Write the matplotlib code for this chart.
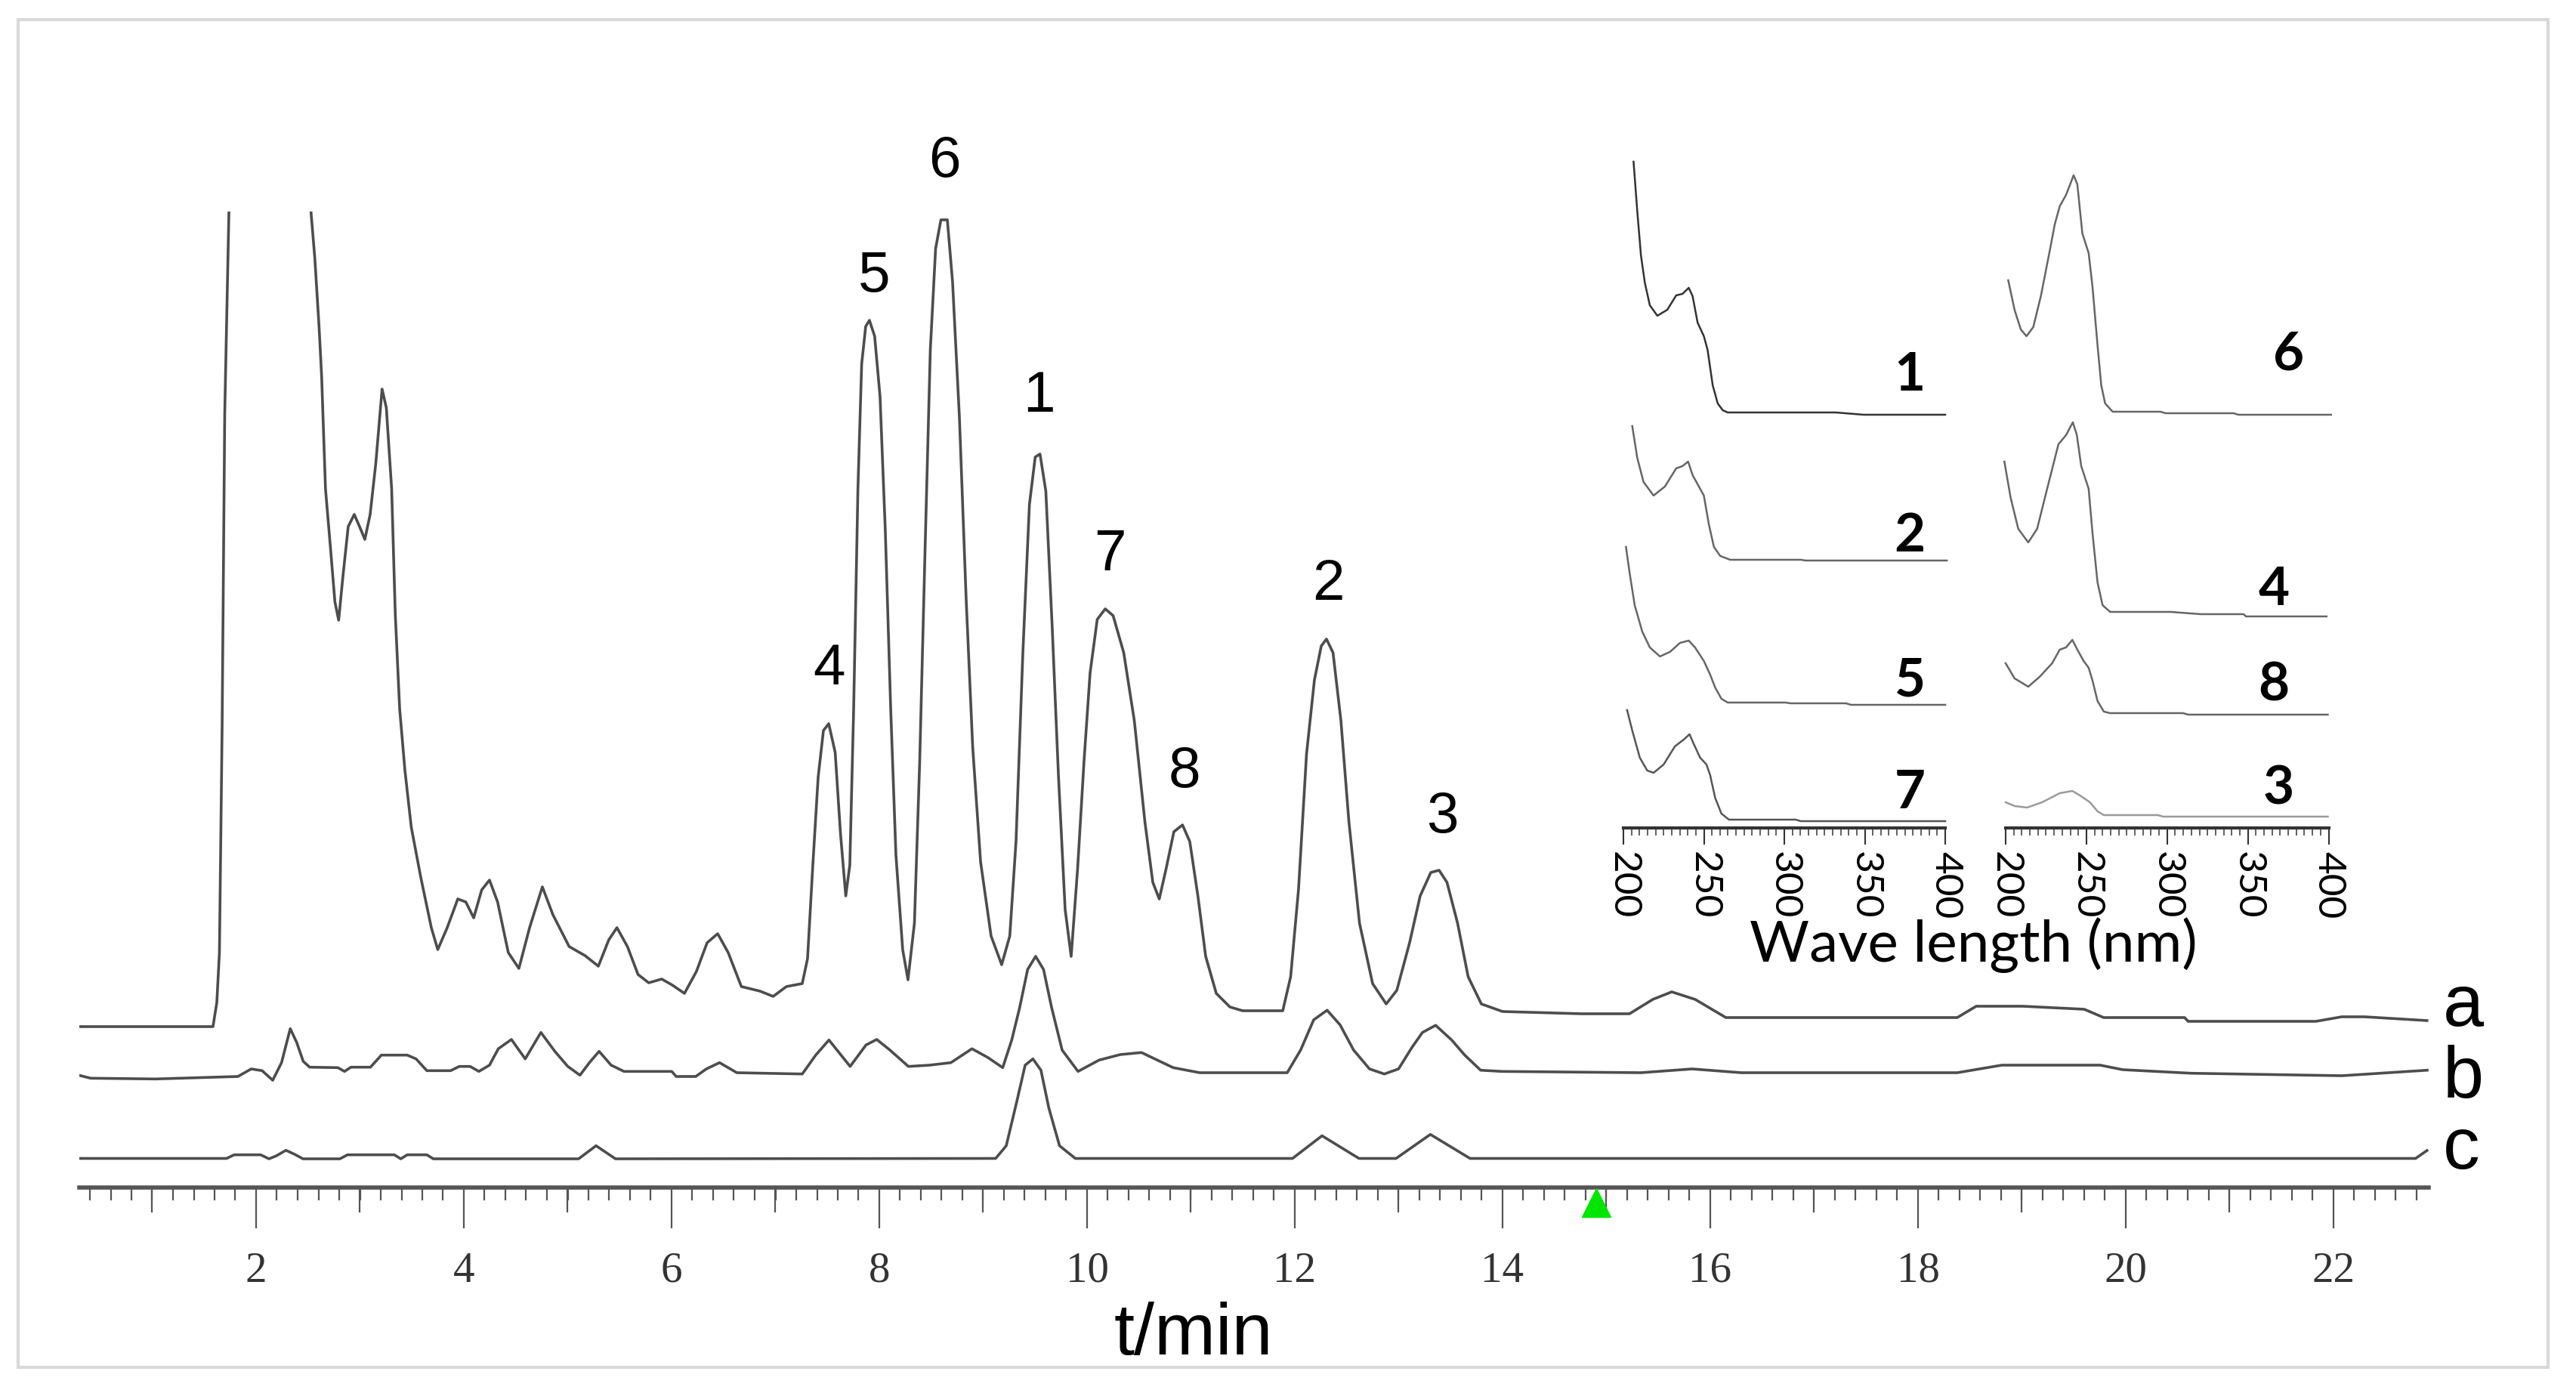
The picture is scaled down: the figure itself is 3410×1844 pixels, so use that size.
import numpy as np
import matplotlib
matplotlib.use("Agg")
import matplotlib.pyplot as plt
from matplotlib.patches import Rectangle
from matplotlib.ticker import MultipleLocator

# ---- chromatogram data (time in min, signal in mAU above each trace's own baseline)
trace_a_t = [0.295, 1.585, 1.622, 1.647, 1.673, 1.698, 1.738, 1.79, 1.95, 2.25,
             2.45, 2.53, 2.565, 2.606, 2.631, 2.668, 2.719, 2.759, 2.795, 2.836,
             2.887, 2.945, 2.996, 3.047, 3.098, 3.152, 3.213, 3.254, 3.305, 3.340,
             3.382, 3.433, 3.494, 3.585, 3.687, 3.749, 3.840, 3.942, 4.019, 4.095,
             4.172, 4.247, 4.325, 4.428, 4.530, 4.633, 4.756, 4.858, 5.014, 5.167,
             5.295, 5.396, 5.474, 5.575, 5.677, 5.780, 5.905, 6.007, 6.124, 6.239,
             6.342, 6.444, 6.545, 6.672, 6.851, 6.978, 7.105, 7.258, 7.309, 7.360,
             7.411, 7.462, 7.513, 7.575, 7.626, 7.677, 7.716, 7.753, 7.794, 7.830,
             7.869, 7.905, 7.955, 8.007, 8.058, 8.109, 8.160, 8.225, 8.276, 8.338,
             8.389, 8.440, 8.491, 8.542, 8.593, 8.655, 8.705, 8.771, 8.836, 8.899,
             8.975, 9.076, 9.178, 9.256, 9.316, 9.382, 9.445, 9.501, 9.547, 9.603,
             9.664, 9.724, 9.789, 9.847, 9.909, 9.971, 10.029, 10.098, 10.175, 10.251,
             10.353, 10.455, 10.557, 10.633, 10.695, 10.761, 10.836, 10.919, 10.989, 11.067,
             11.142, 11.244, 11.375, 11.498, 11.884, 11.960, 12.036, 12.113, 12.189, 12.255,
             12.305, 12.368, 12.444, 12.521, 12.623, 12.749, 12.880, 12.982, 13.105, 13.207,
             13.309, 13.389, 13.465, 13.567, 13.669, 13.796, 14.000, 14.764, 15.222, 15.446,
             15.629, 15.855, 16.150, 18.378, 18.56, 19.007, 19.6, 19.787, 20.566, 20.6,
             21.83, 22.08, 22.3, 22.90]
trace_a_mau = [0.0, 0.0, 3.2, 9.8, 39.7, 81.1, 107.6, 125, 150, 150,
               125, 107.6, 101.8, 92.7, 86.1, 71.2, 62.9, 56.2, 53.8, 59.6,
               66.2, 67.8, 66.2, 64.5, 67.8, 74.5, 84.4, 81.9, 71.2, 54.6,
               42.1, 33.9, 26.4, 19.8, 13.1, 10.2, 13.1, 16.9, 16.5, 14.4,
               18.1, 19.4, 16.5, 9.8, 7.7, 13.1, 18.5, 14.8, 10.6, 9.4,
               8.0, 11.5, 13.1, 10.6, 6.9, 5.8, 6.3, 5.5, 4.4, 7.3,
               11.1, 12.3, 9.8, 5.3, 4.7, 4.0, 5.3, 5.7, 9.0, 21.4,
               33.0, 39.2, 40.1, 36.3, 25.6, 17.3, 21.4, 42.1, 71.2, 87.7,
               92.7, 93.5, 91.4, 83.4, 65.5, 42.3, 22.7, 10.2, 6.2, 13.7,
               35.2, 62.9, 89.6, 103.0, 106.8, 106.8, 98.6, 80.7, 56.6, 37.0,
               21.8, 12.0, 8.2, 12.0, 24.5, 49.5, 69.1, 75.4, 75.8, 70.9,
               53.0, 33.4, 15.5, 9.3, 20.9, 35.2, 46.8, 53.9, 55.3, 54.4,
               49.5, 40.5, 27.1, 19.1, 16.9, 20.9, 25.8, 26.7, 24.5, 17.3,
               9.3, 4.4, 2.6, 2.1, 2.1, 6.6, 18.2, 36.1, 45.9, 50.4,
               51.3, 49.5, 40.5, 27.1, 13.7, 5.7, 3.0, 4.8, 11.1, 17.3,
               20.4, 20.7, 19.1, 13.7, 6.6, 3.0, 2.0, 1.7, 1.7, 3.6,
               4.6, 3.6, 1.2, 1.2, 2.7, 2.7, 2.3, 1.2, 1.2, 0.7,
               0.7, 1.3, 1.3, 0.8]

trace_b_t = [0.291, 0.407, 1.033, 1.825, 1.953, 2.058, 2.160, 2.245, 2.329, 2.391,
             2.454, 2.516, 2.788, 2.851, 2.913, 3.101, 3.206, 3.455, 3.540, 3.644,
             3.873, 3.956, 4.061, 4.145, 4.247, 4.332, 4.458, 4.591, 4.742, 4.876,
             5.001, 5.118, 5.209, 5.302, 5.418, 5.542, 6.002, 6.044, 6.233, 6.335,
             6.462, 6.628, 7.258, 7.388, 7.515, 7.719, 7.872, 7.975, 8.102, 8.280,
             8.484, 8.689, 8.892, 9.046, 9.188, 9.275, 9.352, 9.428, 9.505, 9.581,
             9.658, 9.760, 9.913, 10.116, 10.320, 10.524, 10.676, 10.829, 11.084, 11.927,
             12.056, 12.182, 12.311, 12.436, 12.566, 12.719, 12.862, 12.999, 13.127, 13.229,
             13.356, 13.510, 13.636, 13.789, 13.993, 15.331, 15.825, 16.298, 18.378, 18.807,
             19.753, 19.971, 20.625, 22.08, 22.902]
trace_b_mau = [-0.33, -0.73, -0.83, -0.5, 0.5, 0.27, -1.0, 1.33, 5.83, 4.0,
               1.5, 0.73, 0.67, 0.17, 0.73, 0.73, 2.33, 2.33, 1.83, 0.27,
               0.27, 0.83, 0.83, 0.17, 1.0, 3.17, 4.4, 1.83, 5.33, 2.83,
               0.83, -0.33, 1.33, 2.83, 1.0, 0.17, 0.17, -0.5, -0.5, 0.5,
               1.33, 0.0, -0.17, 2.33, 4.33, 0.83, 3.67, 4.4, 3.0, 0.83,
               1.0, 1.33, 3.17, 2.0, 0.67, 4.33, 8.67, 13.67, 15.4, 13.67,
               8.67, 3.0, 0.17, 1.67, 2.4, 2.67, 1.67, 0.67, 0.0, 0.0,
               3.0, 7.0, 8.27, 6.33, 3.0, 0.5, -0.17, 0.5, 3.33, 5.33,
               6.27, 4.33, 2.33, 0.33, 0.17, 0.0, 0.5, 0.0, 0.0, 1.0,
               1.0, 0.4, -0.07, -0.4, 0.33]

trace_c_t = [0.291, 1.716, 1.789, 2.044, 2.124, 2.196, 2.287, 2.371, 2.451, 2.807,
             2.880, 3.331, 3.393, 3.455, 3.644, 3.706, 5.105, 5.273, 5.460, 9.120,
             9.222, 9.326, 9.404, 9.479, 9.556, 9.632, 9.735, 9.887, 11.978, 12.262,
             12.618, 12.975, 13.305, 13.687, 22.79, 22.90]
trace_c_mau = [0.0, 0.0, 0.48, 0.48, -0.05, 0.35, 1.08, 0.55, -0.05, -0.05,
               0.48, 0.48, -0.05, 0.48, 0.48, -0.05, -0.05, 1.68, -0.05, 0.0,
               1.68, 7.68, 12.35, 13.18, 11.68, 6.68, 1.68, 0.0, 0.0, 3.0,
               0.0, 0.0, 3.18, 0.0, 0.0, 1.05]

trace_names = ["a", "b", "c"]
peak_ids = ["4", "5", "6", "1", "7", "8", "2", "3"]
peak_times = [7.52, 7.95, 8.63, 9.54, 10.22, 10.94, 12.32, 13.42]
marker_time = 14.9

# ---- UV spectra of the numbered peaks (wavelength nm, absorbance above own baseline)
spec_1_nm = [206.3, 208.6, 210.9, 213.3, 216.4, 221.1, 227.3, 232.8, 236.7, 240.6,
             243.0, 246.1, 250.0, 252.3, 255.5, 258.6, 261.7, 264.8, 332.0, 349.2, 400.0]
spec_1_abs = [33.5, 27.0, 21.1, 17.5, 14.5, 13.1, 13.9, 15.8, 16.0, 16.8,
              15.7, 12.2, 10.4, 8.6, 3.9, 1.5, 0.6, 0.3, 0.3, 0.0, 0.0]
spec_2_nm = [205.5, 208.6, 212.5, 218.75, 225.8, 232.8, 236.7, 240.2, 243.0, 246.9,
             250.0, 253.1, 256.25, 260.2, 266.4, 310.2, 313.3, 401.0]
spec_2_abs = [17.8, 13.6, 10.4, 8.6, 9.8, 12.2, 12.5, 13.1, 11.3, 9.8,
              8.6, 4.8, 1.8, 0.6, 0.1, 0.1, 0.0, 0.0]
spec_5_nm = [201.6, 203.9, 207.0, 211.7, 216.4, 222.7, 228.9, 235.2, 240.6, 244.5,
             250.0, 253.9, 257.0, 260.9, 264.8, 300.8, 303.9, 338.3, 341.4, 400.0]
spec_5_abs = [20.9, 17.4, 13.2, 9.7, 7.6, 6.4, 7.0, 8.2, 8.5, 7.6,
              5.8, 4.0, 2.3, 0.8, 0.3, 0.3, 0.2, 0.2, 0.0, 0.0]
spec_7_nm = [202.3, 205.5, 210.2, 214.8, 218.75, 225.0, 232.0, 237.5, 241.1, 243.75,
             247.7, 251.6, 253.9, 257.0, 260.9, 265.6, 307.0, 310.2, 400.0]
spec_7_abs = [14.7, 12.0, 8.4, 6.7, 6.4, 7.5, 9.9, 10.8, 11.5, 10.2,
              8.4, 7.5, 6.1, 3.1, 1.0, 0.2, 0.2, 0.0, 0.0]
spec_6_nm = [201.6, 205.5, 209.35, 212.9, 217.1, 221.8, 227.3, 230.4, 233.5, 237.4,
             242.1, 244.4, 247.5, 251.4, 253.8, 256.9, 259.2, 261.6, 266.25, 295.9,
             299.0, 341.1, 344.2, 401.5]
spec_6_abs = [17.8, 13.9, 11.3, 10.4, 11.6, 15.7, 21.7, 25.2, 27.6, 29.1,
              31.7, 30.5, 24.0, 21.4, 16.9, 9.2, 3.9, 1.5, 0.4, 0.4,
              0.2, 0.2, 0.0, 0.0]
spec_4_nm = [199.2, 203.1, 207.8, 214.0, 219.5, 225.7, 232.7, 237.4, 241.6, 244.1,
             246.8, 251.4, 253.8, 256.9, 260.0, 264.7, 302.1, 320.8, 347.3, 348.9, 398.75]
spec_4_abs = [20.5, 15.7, 11.6, 9.8, 11.6, 16.9, 22.8, 24.0, 25.7, 24.0,
              19.9, 16.9, 11.0, 4.5, 1.5, 0.6, 0.6, 0.3, 0.3, 0.0, 0.0]
spec_8_nm = [200.0, 205.5, 214.0, 221.0, 228.8, 233.5, 237.4, 241.3, 244.4, 248.3,
             251.4, 253.8, 256.9, 260.8, 264.7, 309.9, 313.0, 399.5]
spec_8_abs = [6.8, 4.8, 3.7, 5.0, 6.8, 8.6, 8.9, 9.9, 8.6, 7.1,
              6.2, 4.5, 1.8, 0.4, 0.2, 0.2, 0.0, 0.0]
spec_3_nm = [200.0, 205.5, 213.25, 222.6, 233.5, 241.3, 246.0, 252.2, 256.9, 260.8,
             294.3, 297.4, 399.5]
spec_3_abs = [1.9, 1.4, 1.2, 1.9, 3.1, 3.4, 2.8, 1.9, 0.7, 0.2,
              0.2, 0.0, 0.0]

W, H = 3410, 1844
fig = plt.figure(figsize=(W / 100, H / 100), dpi=100)
fig.patch.set_facecolor("white")

# light frame around the whole picture
fig.patches.append(Rectangle((24 / W, 1 - 1810 / H), (3373 - 24) / W, (1810 - 26) / H,
                             transform=fig.transFigure, fill=False,
                             ec="#d9d9d9", lw=3))

# ---- main chromatogram
ax = fig.add_axes([105.25 / W, 1 - 1572 / H, (3215.5 - 105.25) / W, (1572 - 280) / H])
ax.set_xlim(0.3, 22.92)
ax.set_ylim(0, 129.2)
for sp in ["top", "right", "left"]:
    ax.spines[sp].set_visible(False)
ax.spines["bottom"].set_linewidth(4)
ax.spines["bottom"].set_color("#555555")
ax.set_yticks([])

line_col = "#4d4d4d"
offsets = {"a": 21.3, "b": 15.2, "c": 3.85}
ta = np.array(trace_a_t)
ya = np.array(trace_a_mau) + offsets["a"]
ax.plot(ta, ya, color=line_col, lw=2.6)
ax.plot(trace_b_t, np.array(trace_b_mau) + offsets["b"], color=line_col, lw=2.6)
ax.plot(trace_c_t, np.array(trace_c_mau) + offsets["c"], color=line_col, lw=2.6)

# peak numbers above chromatogram a
for pid, pt in zip(peak_ids, peak_times):
    ax.text(pt, np.interp(pt, ta, ya) + 7.6, pid, ha="center", va="center",
            fontsize=55, family="Liberation Sans", color="black", clip_on=False)

major = np.arange(2, 23, 2)
ax.set_xticks(major, [str(v) for v in major], fontfamily="Liberation Serif",
              fontsize=41, color="#333333")
ax.xaxis.set_minor_locator(MultipleLocator(0.2))
ax.tick_params(axis="x", which="major", direction="out", length=39, width=1.6,
               color="#555555", pad=22)
ax.tick_params(axis="x", which="minor", direction="out", length=12, width=1.6,
               color="#555555")

# medium ticks at odd minutes
sec = ax.secondary_xaxis("bottom")
sec.set_xticks(np.arange(1, 23, 2))
sec.tick_params(axis="x", length=24, width=1.6, color="#555555", labelbottom=False)
sec.spines["bottom"].set_visible(False)

ax.plot([marker_time], [-2.0], marker="^", ms=28, color="#00e600", mec="#00e600",
        clip_on=False, zorder=6)

narrow = ["Liberation Sans Narrow", "Liberation Sans"]
fig.text(1580 / W, 1 - 1793 / H, "t/min", ha="center", va="baseline",
         fontsize=70, family=narrow, color="black")
for name, base_px in zip(trace_names, [1358, 1453, 1547]):
    fig.text(3234 / W, 1 - base_px / H, name, ha="left", va="baseline",
             fontsize=70, family=narrow, color="black")

# ---- inset with UV spectra
left_specs = [("1", spec_1_nm, spec_1_abs, 54.7, "#333333", 5.3),
              ("2", spec_2_nm, spec_2_abs, 35.4, "#666666", 3.3),
              ("5", spec_5_nm, spec_5_abs, 16.3, "#666666", 3.2),
              ("7", spec_7_nm, spec_7_abs, 0.9, "#555555", 3.7)]
right_specs = [("6", spec_6_nm, spec_6_abs, 54.7, "#666666", 8.0),
               ("4", spec_4_nm, spec_4_abs, 28.0, "#666666", 3.6),
               ("8", spec_8_nm, spec_8_abs, 15.0, "#666666", 3.9),
               ("3", spec_3_nm, spec_3_abs, 1.5, "#9a9a9a", 3.7)]
label_nm = {"1": 378, "2": 378, "5": 378, "7": 378,
            "6": 375, "4": 366, "8": 366, "3": 369}

for x0, x1, specs in [(2149, 2575, left_specs), (2655, 3082.5, right_specs)]:
    ins = fig.add_axes([x0 / W, 1 - 1096 / H, (x1 - x0) / W, (1096 - 200) / H])
    ins.set_xlim(200, 400)
    ins.set_ylim(0, 89.6)
    ins.patch.set_alpha(0)
    for sp in ["top", "right", "left"]:
        ins.spines[sp].set_visible(False)
    ins.spines["bottom"].set_linewidth(3)
    ins.spines["bottom"].set_color("#333333")
    ins.set_yticks([])
    ticks = [200, 250, 300, 350, 400]
    ins.set_xticks(ticks, [str(v) for v in ticks], rotation=-90, fontfamily="Lato",
                   fontsize=37, color="black")
    ins.xaxis.set_minor_locator(MultipleLocator(5))
    ins.tick_params(axis="x", which="major", length=16, width=1.5, color="#333333", pad=6)
    ins.tick_params(axis="x", which="minor", length=7, width=1.3, color="#555555")
    for lab, nm, ab, off, col, gap in specs:
        ins.plot(nm, np.array(ab) + off, color=col, lw=1.8, clip_on=False)
        ins.text(label_nm[lab], off + gap, lab, ha="center", va="center",
                 fontsize=51, family="Lato", weight="bold", color="black")

fig.text(2612 / W, 1 - 1273 / H, "Wave length (nm)", ha="center", va="baseline",
         fontsize=55, family="Lato", color="black")

fig.savefig("out.png", dpi=100, facecolor="white")
